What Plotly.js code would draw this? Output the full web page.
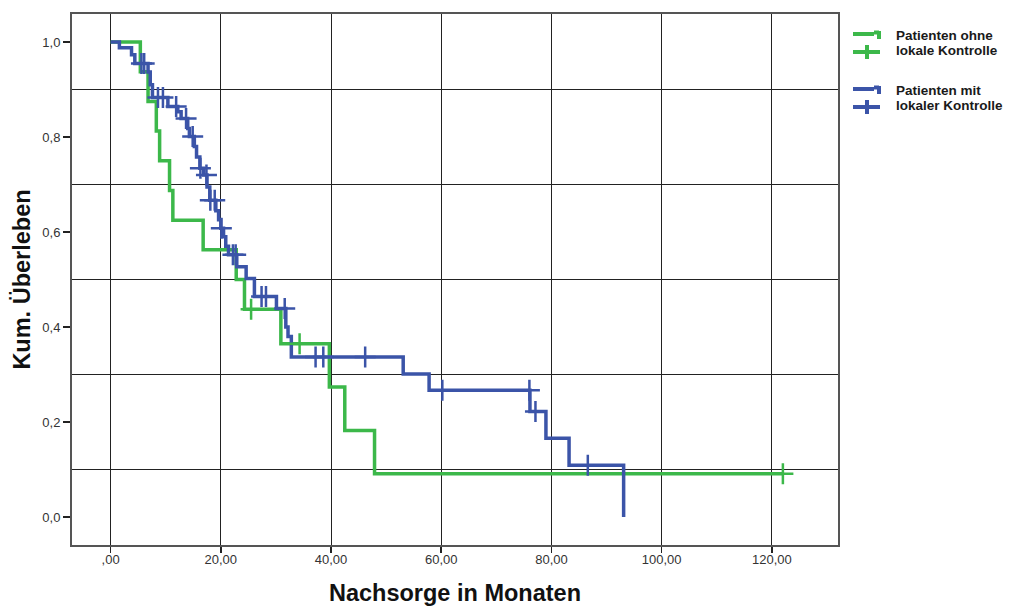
<!DOCTYPE html>
<html>
<head>
<meta charset="utf-8">
<script src="https://cdn.plot.ly/plotly-3.0.1.min.js"></script>
<style>
  html, body { margin: 0; padding: 0; background: #fff; }
  #chart { width: 1010px; height: 606px; }
</style>
</head>
<body>
<div id="chart"></div>
<script>
// Kaplan-Meier survival, follow-up in months

// Patients without local control: event times and survival after each event
const ohneTimes    = [0, 5.4, 6.8, 8.3, 8.9, 10.7, 11.3, 16.8, 22.8, 24.3, 30.9, 39.7, 42.5, 47.9, 122.0];
const ohneSurvival = [1.0, 0.9375, 0.875, 0.8125, 0.75, 0.6875, 0.625, 0.5625, 0.5, 0.4375, 0.3646, 0.2734, 0.1823, 0.0911, 0.0911];
const ohneCensored = [25.5, 34.3, 122.0];

// Patients with local control
const mitTimes    = [0, 1.6, 3.8, 4.4, 6.8, 7.2, 7.6, 10.4, 12.2, 12.8, 14.0, 14.3, 15.2, 15.6, 16.2, 16.9, 17.5, 18.0,
                     19.1, 19.6, 20.0, 20.5, 20.9, 21.4, 22.9, 24.6, 26.1, 30.1, 31.8, 32.2, 32.8, 53.1, 57.8, 76.1,
                     79.0, 83.2, 93.1];
const mitSurvival = [1.0, 0.988, 0.973, 0.955, 0.937, 0.910, 0.883, 0.864, 0.853, 0.839, 0.818, 0.801, 0.780, 0.758, 0.734, 0.720, 0.695, 0.667,
                     0.645, 0.626, 0.608, 0.590, 0.570, 0.552, 0.527, 0.502, 0.464, 0.439, 0.400, 0.380, 0.337, 0.301, 0.267, 0.222,
                     0.166, 0.109, 0.0];
const mitCensored = [5.6, 6.1, 8.6, 9.5, 11.9, 13.7, 14.9, 16.3, 17.4, 18.1, 18.9, 20.1, 22.2, 22.7, 27.4, 28.2, 31.6,
                     37.2, 38.6, 46.2, 60.2, 76.0, 77.1, 86.6];

// Axis ticks
const xTickVals   = [0, 20, 40, 60, 80, 100, 120];
const xTickLabels = [',00', '20,00', '40,00', '60,00', '80,00', '100,00', '120,00'];
const yTickVals   = [0, 0.2, 0.4, 0.6, 0.8, 1.0];
const yTickLabels = ['0,0', '0,2', '0,4', '0,6', '0,8', '1,0'];
const yGridVals   = [0.1, 0.3, 0.5, 0.7, 0.9];

const legendLabels = [['Patienten ohne', 'lokale Kontrolle'], ['Patienten mit', 'lokaler Kontrolle']];

const GREEN = '#3cb84a';
const BLUE = '#3b54a8';
const FONT = 'Liberation Sans, Arial, sans-serif';

// survival estimate in effect at time t (step function)
function survivalAt(times, surv, t) {
  let s = surv[0];
  for (let i = 0; i < times.length; i++) {
    if (times[i] <= t) s = surv[i]; else break;
  }
  return s;
}

function curve(times, surv, color) {
  return {
    x: times, y: surv, type: 'scatter', mode: 'lines',
    line: { shape: 'hv', color: color, width: 3.5 },
    hoverinfo: 'skip', showlegend: false
  };
}
function censorMarks(times, surv, cens, color) {
  return {
    x: cens, y: cens.map(t => survivalAt(times, surv, t)),
    type: 'scatter', mode: 'markers',
    marker: { symbol: 'cross-thin', size: 15, color: color, line: { color: color, width: 2.5 } },
    hoverinfo: 'skip', showlegend: false
  };
}

const data = [
  curve(ohneTimes, ohneSurvival, GREEN),
  curve(mitTimes, mitSurvival, BLUE),
  censorMarks(ohneTimes, ohneSurvival, ohneCensored, GREEN),
  censorMarks(mitTimes, mitSurvival, mitCensored, BLUE)
];

// plot area in pixels, used to place the hand-made legend beside it
const M = { l: 72, r: 172, t: 14, b: 61 };
const W = 1010, H = 606;
const px = x => (x - M.l) / (W - M.l - M.r);
const py = y => (H - M.b - y) / (H - M.t - M.b);

function seg(x0, y0, x1, y1, color) {
  return { type: 'line', xref: 'paper', yref: 'paper', x0: px(x0), y0: py(y0), x1: px(x1), y1: py(y1),
           line: { color: color, width: 4 } };
}
function legendIcons(top, color) {
  return [
    seg(853, top, 874, top, color),
    seg(874, top - 1.5, 879, top - 1.5, color),
    seg(879, top - 3, 879, top + 5, color),
    seg(853, top + 18, 880, top + 18, color),
    seg(867, top + 11, 867, top + 25, color)
  ];
}
function legendText(text, y) {
  return { xref: 'paper', yref: 'paper', x: px(894), y: py(y), xanchor: 'left', yanchor: 'middle',
           text: text, showarrow: false, font: { family: FONT, size: 13.5, color: '#1a1a1a', weight: 'bold' } };
}

const layout = {
  width: W, height: H,
  margin: M,
  paper_bgcolor: '#fff', plot_bgcolor: '#fff',
  font: { family: FONT },
  xaxis: {
    range: [-7, 132],
    tickmode: 'array', tickvals: xTickVals, ticktext: xTickLabels,
    ticks: 'outside', ticklen: 6, tickwidth: 1.5, tickcolor: '#222',
    ticklabelstandoff: -5,
    showgrid: true, gridcolor: '#222', gridwidth: 1,
    zeroline: false,
    showline: true, linecolor: '#555', linewidth: 2, mirror: true,
    tickfont: { family: FONT, size: 13, color: '#333' },
    title: { text: 'Nachsorge in Monaten', font: { family: FONT, size: 23.5, color: '#111', weight: 'bold' }, standoff: 20 }
  },
  yaxis: {
    range: [-0.059, 1.059],
    tickmode: 'array', tickvals: yTickVals, ticktext: yTickLabels,
    ticks: 'outside', ticklen: 7, tickwidth: 1.5, tickcolor: '#222',
    showgrid: false,
    minor: { tickmode: 'array', tickvals: yGridVals, showgrid: true, gridcolor: '#222', gridwidth: 1, ticks: '' },
    zeroline: false,
    showline: true, linecolor: '#555', linewidth: 2, mirror: true,
    tickfont: { family: FONT, size: 13, color: '#333' },
    title: { text: 'Kum. Überleben', font: { family: FONT, size: 23.5, color: '#111', weight: 'bold' }, standoff: 5 }
  },
  shapes: [].concat(legendIcons(34, GREEN), legendIcons(89, BLUE)),
  annotations: [
    legendText(legendLabels[0][0], 36), legendText(legendLabels[0][1], 50),
    legendText(legendLabels[1][0], 91), legendText(legendLabels[1][1], 105)
  ],
  showlegend: false
};

Plotly.newPlot('chart', data, layout, { staticPlot: true, displayModeBar: false });
</script>
</body>
</html>
